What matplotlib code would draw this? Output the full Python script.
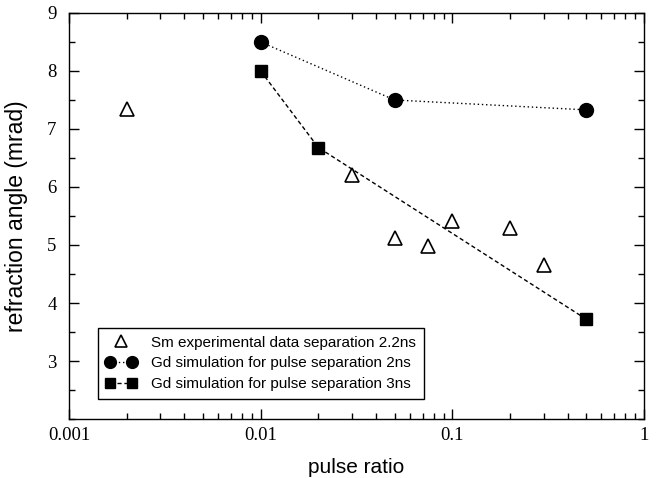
import matplotlib
matplotlib.use("Agg")
import matplotlib.pyplot as plt
from matplotlib.ticker import LogLocator, MultipleLocator, FixedLocator, FixedFormatter, NullFormatter
from matplotlib.legend_handler import HandlerLine2D

sm_x = [0.002, 0.03, 0.05, 0.075, 0.1, 0.2, 0.3]
sm_y = [7.35, 6.2, 5.12, 4.98, 5.42, 5.3, 4.65]
gd2_x = [0.01, 0.05, 0.5]
gd2_y = [8.5, 7.5, 7.33]
gd3_x = [0.01, 0.02, 0.5]
gd3_y = [8.0, 6.68, 3.72]
xtick_vals = [0.001, 0.01, 0.1, 1]
xtick_labels = ["0.001", "0.01", "0.1", "1"]
ytick_vals = [3, 4, 5, 6, 7, 8, 9]

fig = plt.figure(figsize=(6.59, 4.78), dpi=100)
ax = fig.add_axes([69/659, 1-419/478, (644-69)/659, (419-13)/478])

h1, = ax.plot(sm_x, sm_y, linestyle='none', marker='^', markersize=10, markerfacecolor='white',
              markeredgecolor='black', markeredgewidth=1.2, label='Sm experimental data separation 2.2ns')
h2, = ax.plot(gd2_x, gd2_y, linestyle=(0, (1, 2)), color='black', linewidth=1, marker='o', markersize=10,
              markerfacecolor='black', label='Gd simulation for pulse separation 2ns')
h3, = ax.plot(gd3_x, gd3_y, linestyle=(0, (3, 2)), color='black', linewidth=1, marker='s', markersize=8.5,
              markerfacecolor='black', label='Gd simulation for pulse separation 3ns')

ax.set_xscale('log')
ax.set_xlim(0.001, 1)
ax.set_ylim(2, 9)
ax.xaxis.set_major_locator(FixedLocator(xtick_vals))
ax.xaxis.set_major_formatter(FixedFormatter(xtick_labels))
ax.xaxis.set_minor_locator(LogLocator(base=10, subs=range(2, 10)))
ax.xaxis.set_minor_formatter(NullFormatter())
ax.yaxis.set_major_locator(FixedLocator(ytick_vals))
ax.yaxis.set_minor_locator(MultipleLocator(0.5))
ax.tick_params(which='both', direction='in', top=True, right=True)
ax.tick_params(which='major', length=7, width=1)
ax.tick_params(which='minor', length=4, width=1)
for lab in ax.get_xticklabels() + ax.get_yticklabels():
    lab.set_fontfamily('Liberation Serif')
    lab.set_fontsize(13.5)
ax.tick_params(axis='x', pad=6)
ax.tick_params(axis='y', pad=9)

ax.set_xlabel('pulse ratio', fontsize=15, family=['Liberation Sans'], labelpad=10)
ax.set_ylabel('refraction angle (mrad)', fontsize=16.5, family=['Liberation Sans'], labelpad=14)

leg = ax.legend(handles=[h1, h2, h3], loc='lower left', bbox_to_anchor=(29/575, 20/406), fancybox=False, framealpha=1,
                edgecolor='black', prop={'family': ['Liberation Sans'], 'size': 11},
                handlelength=2.0, handletextpad=1.0, borderpad=0.5, borderaxespad=0, labelspacing=0.45,
                numpoints=2, markerscale=0.85,
                handler_map={h1: HandlerLine2D(numpoints=1)})
leg.get_frame().set_linewidth(1)
for s in ax.spines.values():
    s.set_linewidth(1)

fig.savefig('out.png', dpi=100)
